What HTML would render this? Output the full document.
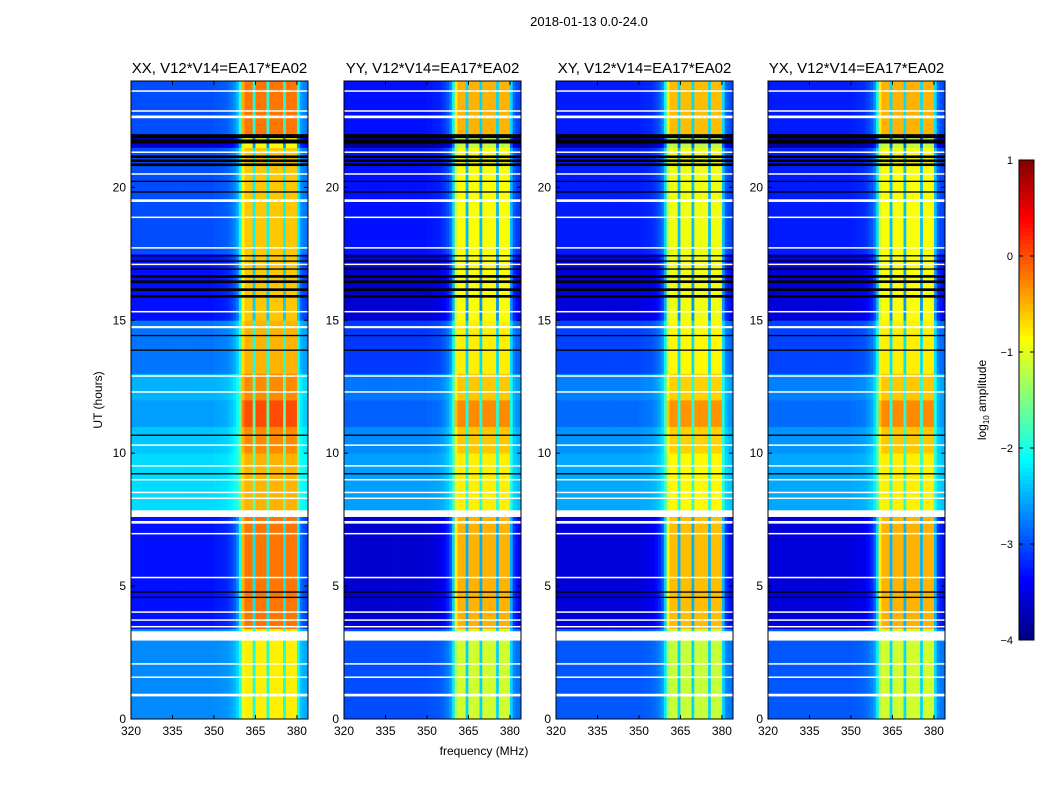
<!DOCTYPE html>
<html><head><meta charset="utf-8">
<style>
body{margin:0;background:#fff;font-family:"Liberation Sans",sans-serif;}
#wrap{position:relative;width:1050px;height:800px;overflow:hidden;}
</style></head>
<body>
<div id="wrap">
<svg id="svg" width="1050" height="800" xmlns="http://www.w3.org/2000/svg"></svg>
</div>
<script>
// ---- data ----
const panelTitles = ["XX, V12*V14=EA17*EA02","YY, V12*V14=EA17*EA02","XY, V12*V14=EA17*EA02","YX, V12*V14=EA17*EA02"];
const panelBgShift = [0.0, -0.3, -0.25, -0.25];
const panelBandShift = [0.1, -0.2, -0.25, -0.2];
const xTicks = [320,335,350,365,380];
const yTicks = [0,5,10,15,20];
const cbTicks = [1,0,-1,-2,-3,-4];
// frequency channel relative brightness (1 MHz channels, 320..383)
const freqRel = [0,0,0,0,0,0,0,0,0,0, 0,0,0,0,0,0,0,0,0,0,
 0,0,0,0,0,0,0,0,0,0, 0.01,0.01,0.02,0.02,0.03,0.05,0.08,0.12,0.2,0.4,
 0.9,1,1,1,0.35,1,1,1,1,0.35, 1,1,1,1,1,0.35,1,1,1,1, 0.35,0.15,0.1,0.08];
// time segments: start hour, background log amp, band log amp
const segStart = [0,3.4,7.8,10,11,12,13,15,17.5,21.5,22];
const segBg    = [-2.7,-3.3,-2.3,-2.4,-2.6,-2.5,-2.8,-3.3,-3.0,-3.6,-3.0];
const segBand  = [-0.9,-0.3,-0.6,-0.4,-0.1,-0.4,-0.6,-0.7,-0.7,-1.0,-0.3];
// flagged (white) intervals [start,end] hours
const flagStart = [0.85,1.55,2.05,2.95,3.45,3.7,4.0,5.3,6.95,7.35,7.6,8.3,8.5,9.0,9.5,10.3,12.3,12.9,14.7,15.3,17.1,17.7,18.85,19.45,20.5,21.3,22.6,22.85,23.6];
const flagEnd   = [0.95,1.6,2.1,3.3,3.5,3.75,4.05,5.35,7.0,7.45,7.85,8.33,8.55,9.03,9.55,10.33,12.33,12.93,14.78,15.35,17.13,17.75,18.9,19.55,20.53,21.35,22.7,22.9,23.65];
// black rows
const blackStart=[4.55,4.75,9.2,10.65,13.85,14.4,15.85,16.1,16.4,16.6,16.9,17.2,17.4,19.8,20.2,20.8,20.95,21.1,21.65,21.85];
const blackEnd  =[4.6,4.8,9.25,10.7,13.9,14.45,15.95,16.2,16.5,16.7,16.95,17.25,17.45,19.85,20.25,20.9,21.05,21.2,21.8,22.0];

// ---- helpers ----
const svg=document.getElementById('svg');
const NS="http://www.w3.org/2000/svg";
function mk(tag,attrs,parent){const e=document.createElementNS(NS,tag);for(const k in attrs)e.setAttribute(k,attrs[k]);(parent||svg).appendChild(e);return e;}
function jet(t){t=Math.max(0,Math.min(1,t));
 const r=Math.max(0,Math.min(1,1.5-Math.abs(4*t-3))),g=Math.max(0,Math.min(1,1.5-Math.abs(4*t-2))),b=Math.max(0,Math.min(1,1.5-Math.abs(4*t-1)));
 return `rgb(${Math.round(r*255)},${Math.round(g*255)},${Math.round(b*255)})`;}
const panelX=[131,344,556,768], PW=177, PT=81, PB=719;
const fx=(f,i)=>panelX[i]+(f-320)/64*PW;
const ty=h=>PB-(h/24)*(PB-PT);

const title=mk('text',{x:589,y:26,'font-size':13,'text-anchor':'middle',fill:'#000'});
title.textContent='2018-01-13 0.0-24.0';



panelTitles.forEach((tt,p)=>{
 const g=mk('g',{});
 
 
 for(let s=0;s<segStart.length;s++){
  const h0=segStart[s],h1=s+1<segStart.length?segStart[s+1]:24;
  for(let c=0;c<freqRel.length;c++){
   const bg=segBg[s]+panelBgShift[p],bd=segBand[s]+panelBandShift[p];
   const v=bg+freqRel[c]*(bd-bg);
   const r=mk('rect',{x:fx(320+c,p),y:ty(h1),width:PW/64+0.4,height:ty(h0)-ty(h1)+0.4,fill:jet((v+4)/5)},g);
   
   
  }
 }
 flagStart.forEach((s,k)=>{const r=mk('rect',{x:panelX[p],y:ty(flagEnd[k]),width:PW,height:Math.max(1.5,ty(s)-ty(flagEnd[k])),fill:'#fff'},g);
  });
 blackStart.forEach((s,k)=>{const r=mk('rect',{x:panelX[p],y:ty(blackEnd[k]),width:PW,height:Math.max(1.2,ty(s)-ty(blackEnd[k])),fill:'#000'},g);
  });
 const fr=mk('rect',{x:panelX[p],y:PT,width:PW,height:PB-PT,fill:'none',stroke:'#000','stroke-width':1},g);
 
 const t=mk('text',{x:panelX[p]+PW/2,y:73,'font-size':15,'text-anchor':'middle'},g);
 t.textContent=tt;
 
 xTicks.forEach(v=>{const x=fx(v,p);
  mk('line',{x1:x,x2:x,y1:PB,y2:PB-4,stroke:'#000'},g);mk('line',{x1:x,x2:x,y1:PT,y2:PT+4,stroke:'#000'},g);
  const l=mk('text',{x:x,y:PB+16,'font-size':12,'text-anchor':'middle'},g);l.textContent=v;
  });
 yTicks.forEach(v=>{const y=ty(v);
  mk('line',{x1:panelX[p],x2:panelX[p]+4,y1:y,y2:y,stroke:'#000'},g);mk('line',{x1:panelX[p]+PW,x2:panelX[p]+PW-4,y1:y,y2:y,stroke:'#000'},g);
  const l=mk('text',{x:panelX[p]-5,y:y+4,'font-size':12,'text-anchor':'end'},g);l.textContent=v;
  });
});
const xl=mk('text',{x:484,y:755,'font-size':12,'text-anchor':'middle'});xl.textContent='frequency (MHz)';

const yl=mk('text',{x:102,y:400,'font-size':12,'text-anchor':'middle',transform:'rotate(-90 102 400)'});yl.textContent='UT (hours)';


// colorbar
const cbTop=160,cbBot=640,cbX=1019,cbW=15;
const cb=mk('g',{});

for(let i=0;i<120;i++){const y=cbTop+i*(cbBot-cbTop)/120;
 mk('rect',{x:cbX,y:y,width:cbW,height:(cbBot-cbTop)/120+0.5,fill:jet(1-(i+0.5)/120)},cb);}
mk('rect',{x:cbX,y:cbTop,width:cbW,height:cbBot-cbTop,fill:'none',stroke:'#000'},cb);
cbTicks.forEach(v=>{const y=cbTop+(1-v)/5*(cbBot-cbTop);
 mk('line',{x1:cbX,x2:cbX+4,y1:y,y2:y,stroke:'#000'},cb);mk('line',{x1:cbX+cbW,x2:cbX+cbW-4,y1:y,y2:y,stroke:'#000'},cb);
 const l=mk('text',{x:cbX-6,y:y+4,'font-size':11,'text-anchor':'end'},cb);l.textContent=v<0?'\u2212'+(-v):v;
 });
const cl=mk('text',{x:986,y:400,'font-size':12,'text-anchor':'middle',transform:'rotate(-90 986 400)'});
cl.innerHTML='log<tspan font-size="8" dy="3">10</tspan><tspan dy="-3"> amplitude</tspan>';

</script>
</body></html>
